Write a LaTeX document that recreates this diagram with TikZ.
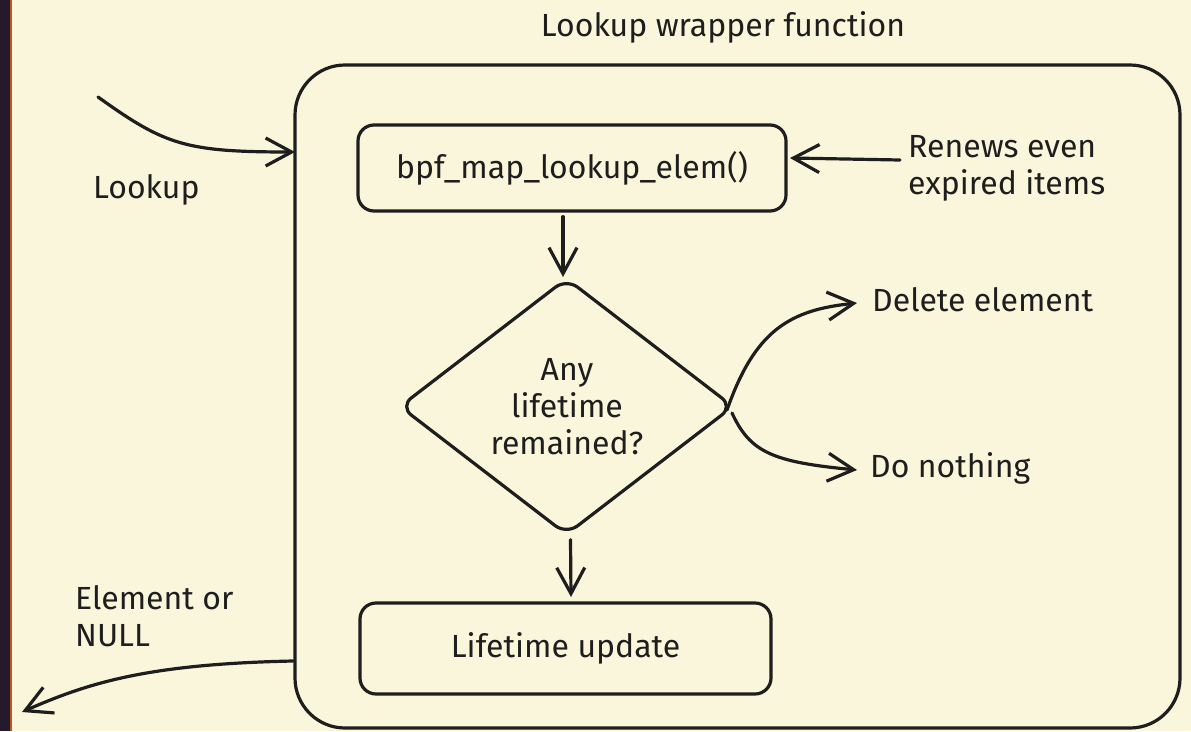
\documentclass[tikz,border=0pt]{standalone}
\usepackage{fontspec}
\setmainfont{Fira Sans}
\usetikzlibrary{arrows.meta,shapes.geometric}
\definecolor{paper}{HTML}{FAF6DC}
\definecolor{ink}{HTML}{1E1E1E}
\definecolor{frame}{HTML}{251A2D}
\definecolor{rim}{HTML}{C0541E}
\tikzset{
  sketch/.style={draw=ink, line width=3.2pt, line cap=round, line join=round},
  barb/.style={-{Straight Barb[length=26pt,width=28pt,line width=3.2pt]}},
  lbl/.style={text=ink, font=\fontsize{32}{37}\selectfont, inner sep=0pt},
  stepbox/.style={sketch, rounded corners=16pt, inner sep=0pt}
}
\begin{document}
\begin{tikzpicture}[x=1pt,y=-1pt]
  % page and left frame strip
  \fill[paper] (0,0) rectangle (1191,731);
  \useasboundingbox (0,0) rectangle (1191,731);
  \fill[frame] (0,0) rectangle (10,731);
  \fill[rim] (10,0) rectangle (11.5,731);

  % wrapper
  \node[lbl] (title) at (723,27) {Lookup wrapper function};
  \node[sketch, rounded corners=50pt, minimum width=885pt, minimum height=663pt, inner sep=0pt] (outer) at (737.5,396.5) {};

  % steps
  \node[stepbox, minimum width=428pt, minimum height=86pt] (lookupfn) at (572,168) {};
  \node[lbl] at (lookupfn) {bpf\_map\_lookup\_elem()};
  \node[sketch, diamond, aspect=1.31, minimum width=334pt, minimum height=257pt, inner sep=0pt, rounded corners=14pt] (check) at (566.5,406.5) {};
  \node[lbl, align=center] at (567,407) {Any\\lifetime\\remained?};
  \node[stepbox, minimum width=411pt, minimum height=91pt] (update) at (565.5,648.5) {};
  \node[lbl] at (update) {Lifetime update};

  % annotations
  \node[lbl, align=left, anchor=west] (renew) at (908,168) {Renews even\\expired items};
  \node[lbl, anchor=west] (delete) at (872,300) {Delete element};
  \node[lbl, anchor=west] (nothing) at (870,468) {Do nothing};
  \node[lbl, anchor=west] (lookuplbl) at (93,190) {Lookup};
  \node[lbl, align=left, anchor=west] (result) at (75,616) {Element or\\NULL};

  % connector ends
  \coordinate (caller) at (98,97);
  \coordinate (entry) at (295,152);
  \coordinate (exitpt) at (293,661);
  \coordinate (back) at (22,712);
  \coordinate (renewtail) at (900,160);
  \coordinate (renewtip) at (790,158);
  \coordinate (yes) at (727,410);
  \coordinate (no) at (732,413);
  \coordinate (deltip) at (857,303);
  \coordinate (nothtip) at (857,470);

  % connectors
  \draw[sketch, barb] (caller) .. controls (165,145) and (185,152) .. (entry);
  \draw[sketch, barb] (exitpt) .. controls (150,664) and (90,682) .. (back);
  \draw[sketch, barb] (renewtail) -- (renewtip);
  \draw[sketch, barb] (lookupfn.south) ++(-9,4) -- (563,277);
  \draw[sketch, barb] (check.south) ++(4,3) -- (571,597);
  \draw[sketch, barb] (yes) .. controls (755,330) and (790,310) .. (deltip);
  \draw[sketch, barb] (no) .. controls (750,452) and (772,462) .. (nothtip);
\end{tikzpicture}
\end{document}
